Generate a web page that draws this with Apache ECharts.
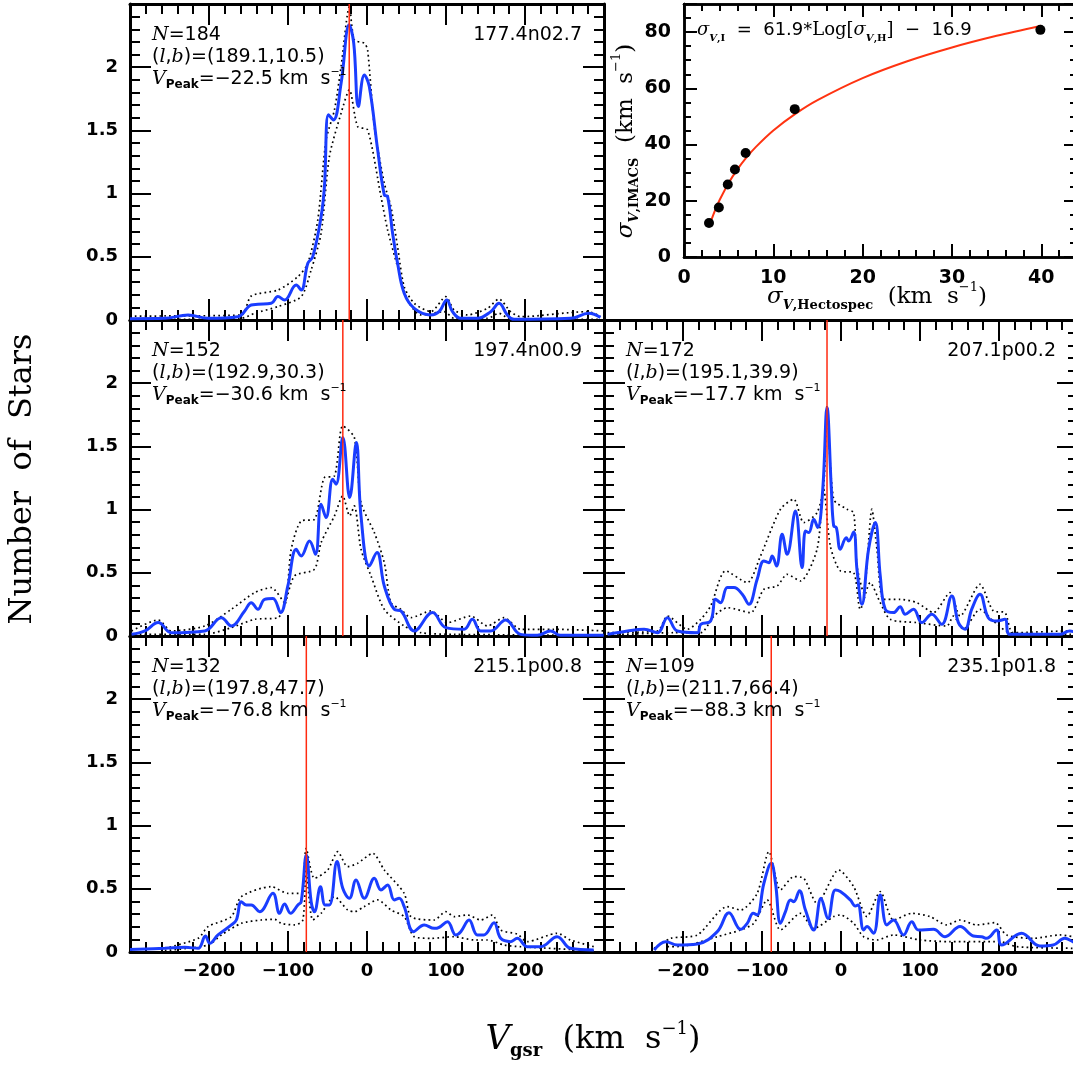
<!DOCTYPE html>
<html>
<head>
<meta charset="utf-8">
<script src="https://cdn.jsdelivr.net/npm/echarts/dist/echarts.min.js"></script>
<style>
  html, body { margin: 0; padding: 0; background: #fff; }
  #chart { width: 1073px; height: 1065px; }
</style>
</head>
<body>
<div id="chart"></div>
<script>
// ---- Field metadata ----
const fieldNames = ['177.4n02.7', '197.4n00.9', '207.1p00.2', '215.1p00.8', '235.1p01.8'];
const fieldN     = [184, 152, 172, 132, 109];
const fieldL     = [189.1, 192.9, 195.1, 197.8, 211.7];
const fieldB     = [10.5, 30.3, 39.9, 47.7, 66.4];
const fieldVPeak = [-22.5, -30.6, -17.7, -76.8, -88.3];

// ---- Axis ticks ----
const velTicks = [-200, -100, 0, 100, 200];
const numTicks = [0, 0.5, 1, 1.5, 2];
const sigHTicks = [0, 10, 20, 30, 40];
const sigITicks = [0, 20, 40, 60, 80];

// ---- Smoothed velocity distributions [Vgsr, number of stars] ----
const f177Dist = [[-300,0.01],[-255.9,0.013],[-226.4,0.04],[-201.2,0.013],[-163.3,0.026],[-146.5,0.119],[-138.0,0.124],[-121.2,0.132],[-112.8,0.185],[-104.4,0.158],[-89.6,0.277],[-83.3,0.237],[-74.9,0.449],[-68.6,0.501],[-58.1,0.818],[-53.9,1.055],[-48.8,1.623],[-42.5,1.583],[-32.8,1.873],[-22.5,2.335],[-16.8,2.19],[-10.9,1.689],[-3.4,1.939],[2.9,1.847],[13.5,1.346],[21.9,0.989],[26.1,0.976],[32.4,0.686],[38.7,0.449],[47.1,0.211],[59.8,0.092],[80.8,0.040],[91.3,0.066],[101.0,0.158],[108.2,0.066],[118.7,0.013],[139.7,0.013],[156.6,0.066],[167.1,0.132],[177.6,0.040],[186.0,0.005],[257.6,0.013],[280.7,0.053],[295.5,0.021]];
const f177Hi = [[-300,0.03],[-255.9,0.032],[-159.1,0.040],[-146.5,0.19],[-112.8,0.237],[-87.5,0.343],[-74.9,0.449],[-62.3,0.792],[-51.8,1.425],[-41.2,1.662],[-32.8,2.005],[-22.3,2.48],[-16.0,2.216],[-3.4,2.19],[0.8,2.137],[9.3,1.530],[21.9,1.082],[30.3,0.897],[38.7,0.580],[47.1,0.264],[59.8,0.132],[80.8,0.066],[99.7,0.185],[110.3,0.079],[127.1,0.040],[152.4,0.092],[167.1,0.166],[181.8,0.066],[194.4,0.026],[278.6,0.066],[295.5,0.032]];
const f177Lo = [[-300,0.005],[-255.9,0.005],[-159.1,0.013],[-142.3,0.053],[-112.8,0.106],[-83.3,0.185],[-70.7,0.396],[-58.1,0.686],[-47.6,1.293],[-32.8,1.636],[-22.3,1.821],[-11.8,1.530],[0.8,1.504],[17.7,0.976],[26.1,0.712],[38.7,0.422],[51.3,0.158],[68.2,0.040],[97.6,0.066],[110.3,0.013],[152.4,0.013],[167.1,0.053],[181.8,0.005],[295.5,0.005]];

const f197Dist = [[-298.0,0.013],[-281.1,0.040],[-264.3,0.106],[-247.5,0.026],[-205.4,0.040],[-184.3,0.145],[-171.7,0.079],[-154.9,0.198],[-146.5,0.264],[-138.0,0.211],[-129.6,0.290],[-119.1,0.296],[-109.4,0.185],[-100.2,0.396],[-89.6,0.686],[-83.3,0.633],[-72.8,0.752],[-65.2,0.646],[-58.1,1.042],[-51.8,0.937],[-43.4,1.240],[-39.1,1.201],[-30.6,1.570],[-21.9,1.095],[-13.5,1.530],[-7.6,0.950],[2.9,0.554],[12.6,0.660],[21.9,0.396],[34.5,0.211],[42.9,0.198],[59.8,0.040],[82.9,0.185],[99.7,0.066],[122.9,0.053],[133.4,0.132],[143.9,0.040],[156.6,0.040],[175.5,0.127],[194.4,0.013],[215.5,0.005],[232.3,0.040],[244.9,0.005],[299.7,0.005]];
const f197Hi = [[-298.0,0.040],[-264.3,0.127],[-247.5,0.040],[-205.4,0.079],[-171.7,0.211],[-142.3,0.343],[-121.2,0.383],[-104.4,0.264],[-96.0,0.686],[-83.3,0.910],[-66.5,0.923],[-53.9,1.253],[-41.2,1.266],[-30.7,1.662],[-16.0,1.570],[-7.6,1.055],[9.3,0.818],[21.9,0.580],[30.3,0.264],[42.9,0.211],[55.6,0.145],[80.8,0.198],[101.9,0.106],[131.3,0.158],[152.4,0.079],[173.4,0.145],[194.4,0.053],[236.5,0.053],[299.7,0.040]];
const f197Lo = [[-293.8,0.013],[-205.4,0.013],[-171.7,0.066],[-142.3,0.132],[-112.8,0.145],[-104.4,0.237],[-91.8,0.475],[-66.5,0.528],[-58.1,0.739],[-41.2,0.950],[-30.7,1.108],[-21.9,0.950],[-16.0,1.029],[-7.6,0.686],[5.1,0.475],[21.9,0.211],[47.1,0.079],[68.2,0.026],[110.3,0.013],[299.7,0.005]];

const f207Dist = [[-295.5,0.013],[-270.2,0.040],[-249.2,0.053],[-232.3,0.026],[-219.7,0.145],[-207.1,0.040],[-181.8,0.026],[-177.6,0.092],[-165.0,0.119],[-158.7,0.290],[-152.4,0.264],[-143.9,0.383],[-135.5,0.383],[-125.0,0.330],[-116.6,0.251],[-106.1,0.449],[-97.6,0.594],[-91.3,0.580],[-87.1,0.633],[-81.6,0.554],[-74.5,0.805],[-68.2,0.646],[-57.7,0.989],[-49.2,0.541],[-45.0,0.831],[-40.8,0.818],[-34.5,0.923],[-29.5,0.858],[-23.1,1.161],[-17.7,1.807],[-12.2,1.161],[-9.3,0.871],[-5.9,0.858],[-0.8,0.686],[6.7,0.778],[9.7,0.752],[16.0,0.823],[20.2,0.528],[26.5,0.251],[34.9,0.686],[43.4,0.897],[49.7,0.475],[56.0,0.211],[66.5,0.185],[74.9,0.232],[81.2,0.172],[91.8,0.211],[102.3,0.106],[114.9,0.172],[127.5,0.092],[140.2,0.317],[148.6,0.106],[157.0,0.053],[165.4,0.211],[175.9,0.330],[186.4,0.145],[197.0,0.119],[207.5,0.132],[213.8,0.013],[276.9,0.013],[289.6,0.040],[300,0.02]];
const f207Hi = [[-295.5,0.026],[-232.3,0.040],[-219.7,0.158],[-194.4,0.053],[-177.6,0.132],[-165.0,0.237],[-146.0,0.515],[-118.7,0.422],[-101.9,0.633],[-76.6,1.003],[-59.8,1.082],[-47.1,0.897],[-30.3,0.976],[-21.9,1.187],[-17.7,1.821],[-9.3,1.082],[7.6,1.003],[16.0,0.976],[20.2,0.554],[28.6,0.343],[39.1,1.003],[45.5,0.686],[53.9,0.290],[74.9,0.290],[96.0,0.264],[117.0,0.185],[138.0,0.343],[150.7,0.158],[175.9,0.409],[192.8,0.198],[207.5,0.185],[218.0,0.026],[289.6,0.040],[300,0.03]];
const f207Lo = [[-295.5,0.005],[-211.3,0.026],[-177.6,0.026],[-160.8,0.158],[-143.9,0.224],[-114.5,0.185],[-97.6,0.369],[-80.8,0.396],[-68.2,0.488],[-51.3,0.435],[-30.3,0.686],[-21.9,1.161],[-13.5,0.712],[-0.8,0.515],[16.0,0.501],[24.4,0.211],[37.0,0.422],[49.7,0.264],[62.3,0.132],[96.0,0.106],[133.8,0.079],[142.3,0.158],[154.9,0.053],[175.9,0.211],[192.8,0.119],[213.8,0.026],[289.6,0.013],[300,0.01]];

const f215Dist = [[-300,0.02],[-255.9,0.029],[-230.6,0.037],[-213.8,0.029],[-204.5,0.127],[-199.1,0.069],[-188.6,0.135],[-171.7,0.214],[-165.4,0.253],[-159.1,0.398],[-152.8,0.372],[-146.5,0.372],[-135.9,0.319],[-119.1,0.464],[-110.7,0.306],[-104.4,0.380],[-96.8,0.306],[-87.5,0.372],[-83.3,0.398],[-76.8,0.768],[-70.7,0.398],[-66.5,0.319],[-58.9,0.517],[-53.0,0.372],[-47.6,0.372],[-37.9,0.715],[-30.7,0.504],[-22.3,0.425],[-13.9,0.570],[-3.4,0.425],[9.3,0.583],[17.7,0.491],[26.1,0.530],[34.5,0.412],[40.8,0.425],[47.1,0.359],[58.9,0.161],[72.4,0.214],[85.0,0.187],[91.3,0.195],[101.9,0.240],[112.4,0.135],[118.7,0.161],[129.2,0.253],[139.7,0.135],[148.1,0.135],[160.8,0.232],[169.2,0.108],[181.8,0.082],[190.2,0.108],[202.9,0.042],[219.7,0.042],[240.7,0.121],[257.6,0.029],[287.0,0.016]];
const f215Hi = [[-255.9,0.029],[-213.8,0.108],[-201.2,0.201],[-171.7,0.280],[-159.1,0.438],[-121.2,0.517],[-100.2,0.464],[-83.3,0.464],[-77.0,0.821],[-66.5,0.583],[-49.7,0.649],[-37.0,0.794],[-24.4,0.675],[-11.8,0.702],[7.2,0.781],[21.9,0.649],[47.1,0.464],[55.6,0.280],[85.0,0.253],[99.7,0.319],[110.3,0.280],[127.1,0.293],[143.9,0.253],[158.7,0.293],[169.2,0.174],[190.2,0.142],[202.9,0.082],[240.7,0.148],[257.6,0.095],[287.0,0.042]];
const f215Lo = [[-255.9,0.011],[-201.2,0.055],[-184.3,0.135],[-159.1,0.227],[-133.8,0.253],[-117.0,0.259],[-108.6,0.227],[-91.8,0.214],[-81.2,0.253],[-77.0,0.649],[-68.6,0.253],[-58.1,0.306],[-41.2,0.438],[-24.4,0.332],[-16.0,0.319],[-3.4,0.359],[13.5,0.412],[30.3,0.332],[47.1,0.280],[59.8,0.121],[80.8,0.108],[110.3,0.121],[135.5,0.095],[152.4,0.095],[173.4,0.055],[194.4,0.042],[287.0,0.011]];

const f235Dist = [[-236.5,0.016],[-221.8,0.082],[-207.1,0.055],[-181.8,0.063],[-156.6,0.161],[-141.8,0.311],[-127.1,0.179],[-118.7,0.227],[-111.1,0.306],[-106.1,0.293],[-97.6,0.544],[-88.3,0.702],[-82.9,0.544],[-76.6,0.227],[-70.3,0.319],[-64.0,0.412],[-59.8,0.398],[-52.6,0.485],[-45.0,0.332],[-34.5,0.174],[-25.3,0.425],[-16.4,0.266],[-7.2,0.491],[-0.8,0.478],[11.8,0.412],[18.1,0.364],[21.5,0.372],[28.6,0.174],[32.8,0.201],[41.2,0.148],[49.7,0.451],[58.1,0.214],[66.5,0.253],[79.1,0.135],[89.6,0.240],[98.1,0.174],[117.0,0.179],[131.7,0.121],[150.7,0.201],[167.5,0.127],[178.0,0.121],[184.3,0.108],[197.0,0.174],[203.3,0.055],[228.5,0.148],[251.7,0.047],[268.5,0.055],[283.2,0.108],[293.4,0.082],[300,0.06]];
const f235Hi = [[-236.5,0.029],[-215.5,0.108],[-181.8,0.135],[-143.9,0.359],[-127.1,0.332],[-106.1,0.464],[-91.3,0.794],[-76.6,0.491],[-59.8,0.596],[-47.1,0.583],[-30.3,0.385],[-2.9,0.649],[16.0,0.517],[32.8,0.280],[49.7,0.478],[66.5,0.253],[89.6,0.306],[112.8,0.280],[133.8,0.214],[150.7,0.253],[171.7,0.214],[194.9,0.232],[209.6,0.135],[243.3,0.108],[276.9,0.135],[293.4,0.121],[300,0.11]];
const f235Lo = [[-219.7,0.042],[-198.7,0.047],[-156.6,0.121],[-127.1,0.174],[-110.3,0.227],[-93.4,0.412],[-76.6,0.174],[-51.3,0.306],[-34.5,0.187],[-9.3,0.280],[-0.8,0.293],[16.0,0.227],[28.6,0.121],[45.5,0.095],[66.5,0.135],[100.2,0.095],[138.0,0.082],[201.2,0.082],[222.2,0.042],[293.4,0.029],[300,0.028]];

const distSeries = [f177Dist, f197Dist, f207Dist, f215Dist, f235Dist];
const hiSeries   = [f177Hi, f197Hi, f207Hi, f215Hi, f235Hi];
const loSeries   = [f177Lo, f197Lo, f207Lo, f215Lo, f235Lo];

// ---- Dispersion comparison (IMACS vs Hectospec) ----
const sigmaHecto = [2.8, 3.9, 4.9, 5.7, 6.9, 12.4, 39.9];
const sigmaImacs = [12.1, 17.6, 25.8, 31.1, 37.0, 52.6, 80.8];
const fitSlope = 61.9;
const fitIntercept = -16.9;
const fitSigmaH = [3, 3.5, 4, 5, 6, 7, 8, 10, 12.5, 15, 20, 25, 30, 35, 40];

// ---- Layout ----
const VEL_MIN = -300, VEL_MAX = 300, N_MAX = 2.5;
const PW = 474, PH = 316;
const panels = [
  { left: 130, top: 4,   xLab: false, yLab: true },
  { left: 130, top: 320, xLab: false, yLab: true },
  { left: 604, top: 320, xLab: false, yLab: false },
  { left: 130, top: 636, xLab: true,  yLab: true },
  { left: 604, top: 636, xLab: true,  yLab: false }
];
const inset = { left: 684, top: 4, width: 393, height: 253 };

const BLUE = '#1a3dff';
const RED = '#ff2a10';
const tickFont = { color: '#000', fontFamily: 'DejaVu Sans', fontWeight: 'bold', fontSize: 18 };
const minus = v => (v < 0 ? '\u2212' + Math.abs(v) : String(v));

function frameAxis(dim, gridIndex, position, o) {
  return {
    type: 'value', gridIndex, position, min: o.min, max: o.max, interval: o.interval,
    axisLine: { show: true, onZero: false, lineStyle: { color: '#000', width: o.lineWidth || 3 } },
    axisTick: { show: true, inside: true, length: o.tickLen, lineStyle: { color: '#000', width: 2 } },
    minorTick: { show: !!o.minor, splitNumber: o.minor || 5, length: o.minorLen || 10, lineStyle: { color: '#000', width: 2 } },
    splitLine: { show: false }, minorSplitLine: { show: false },
    axisLabel: Object.assign({ show: !!o.labels, margin: o.margin || 12, hideOverlap: false,
      showMinLabel: true, showMaxLabel: true,
      formatter: v => (o.labels && o.labels.includes(+v.toFixed(6))) ? minus(v) : '' }, tickFont, o.labelFont || {})
  };
}

const grid = [], xAxis = [], yAxis = [], series = [], graphic = [];

const panelRich = {
  r: { fontFamily: 'DejaVu Sans', fontSize: 19, lineHeight: 24, color: '#000' },
  i: { fontFamily: 'DejaVu Serif', fontStyle: 'italic', fontSize: 19, lineHeight: 24, color: '#000' },
  sub: { fontFamily: 'DejaVu Sans', fontWeight: 'bold', fontSize: 12, lineHeight: 8, verticalAlign: 'bottom', color: '#000' },
  sup: { fontFamily: 'DejaVu Sans', fontSize: 11, lineHeight: 19, verticalAlign: 'top', color: '#000' }
};

panels.forEach((p, i) => {
  grid.push({ left: p.left, top: p.top, width: PW, height: PH, containLabel: false, outerBoundsMode: 'none' });
  const vOpt = { min: VEL_MIN, max: VEL_MAX, interval: 100, tickLen: 21, minor: 5, minorLen: 10 };
  const nOpt = { min: 0, max: N_MAX, interval: 0.5, tickLen: 21, minor: 5, minorLen: 10 };
  xAxis.push(frameAxis('x', i, 'bottom', Object.assign({}, vOpt, { labels: p.xLab ? velTicks : null, margin: 10 })));
  xAxis.push(frameAxis('x', i, 'top', vOpt));
  yAxis.push(frameAxis('y', i, 'left', Object.assign({}, nOpt, { labels: p.yLab ? numTicks : null, margin: 12 })));
  yAxis.push(frameAxis('y', i, 'right', nOpt));
  const xi = 2 * i, yi = 2 * i;
  const common = { type: 'line', xAxisIndex: xi, yAxisIndex: yi, showSymbol: false, silent: true,
    smooth: 0.4, animation: false, clip: true };
  const dotted = { color: '#000', width: 1.7, type: [1.7, 3.2] };
  series.push(Object.assign({}, common, { data: hiSeries[i], z: 2, smooth: 0.25, lineStyle: dotted }));
  series.push(Object.assign({}, common, { data: loSeries[i], z: 2, smooth: 0.25, lineStyle: dotted }));
  series.push(Object.assign({}, common, { data: distSeries[i], z: 3,
    lineStyle: { color: BLUE, width: 3 } }));
  series.push(Object.assign({}, common, { smooth: false, z: 4,
    data: [[fieldVPeak[i], 0], [fieldVPeak[i], N_MAX]],
    lineStyle: { color: RED, width: 1.5 } }));

  const tx = p.left + 22;
  const lines = [
    `{i|N}{r|=${fieldN[i]}}`,
    `{r|(}{i|l}{r|,}{i|b}{r|)=(${fieldL[i].toFixed(1)},${fieldB[i].toFixed(1)})}`,
    `{i|V}{sub|Peak}{r|=${minus(fieldVPeak[i])} km  s}{sup|\u22121}`
  ];
  lines.forEach((t, k) => graphic.push({ type: 'text', x: tx, y: p.top + 19 + 22 * k, z: 50,
    style: { text: t, rich: panelRich, align: 'left', verticalAlign: 'top' } }));
  graphic.push({ type: 'text', x: p.left + 452, y: p.top + 19, z: 50,
    style: { text: `{r|${fieldNames[i]}}`, rich: panelRich, align: 'right', verticalAlign: 'top' } });
});

// ---- Inset: sigma comparison ----
const gi = panels.length;
grid.push({ left: inset.left, top: inset.top, width: inset.width, height: inset.height, containLabel: false, outerBoundsMode: 'none' });
const insetFont = { fontSize: 19 };
const hMajor = { min: 0, max: 44, interval: 10, tickLen: 13, lineWidth: 2.5 };
const hMinor = { min: 0, max: 44, interval: 2, tickLen: 7, lineWidth: 2.5 };
const iMajor = { min: 0, max: 90, interval: 20, tickLen: 13, lineWidth: 2.5 };
const iMinor = { min: 0, max: 90, interval: 5, tickLen: 7, lineWidth: 2.5 };
const ix0 = xAxis.length, iy0 = yAxis.length;
xAxis.push(frameAxis('x', gi, 'bottom', Object.assign({}, hMajor, { labels: sigHTicks, margin: 12, labelFont: insetFont })));
xAxis.push(frameAxis('x', gi, 'bottom', hMinor));
xAxis.push(frameAxis('x', gi, 'top', hMajor));
xAxis.push(frameAxis('x', gi, 'top', hMinor));
yAxis.push(frameAxis('y', gi, 'left', Object.assign({}, iMajor, { labels: sigITicks, margin: 13, labelFont: insetFont })));
yAxis.push(frameAxis('y', gi, 'left', iMinor));
yAxis.push(frameAxis('y', gi, 'right', iMajor));
yAxis.push(frameAxis('y', gi, 'right', iMinor));

// fitted relation, evaluated from the coefficients printed in the panel
series.push({ type: 'line', xAxisIndex: ix0, yAxisIndex: iy0, showSymbol: false, silent: true, animation: false,
  smooth: 0.3, z: 3, lineStyle: { color: '#ff3311', width: 2 },
  data: fitSigmaH.map(h => [h, fitSlope * Math.log10(h) + fitIntercept]) });
series.push({ type: 'scatter', xAxisIndex: ix0, yAxisIndex: iy0, silent: true, animation: false,
  symbol: 'circle', symbolSize: 10, z: 4, itemStyle: { color: '#000', opacity: 1 },
  data: sigmaHecto.map((h, k) => [h, sigmaImacs[k]]) });

// ---- Titles and annotations ----
const serifRich = (size) => ({
  r: { fontFamily: 'DejaVu Serif', fontSize: size, lineHeight: size + 8, color: '#000' },
  v: { fontFamily: 'DejaVu Serif', fontStyle: 'italic', fontSize: size + 2, lineHeight: size + 8, color: '#000' },
  s: { fontFamily: 'DejaVu Serif', fontStyle: 'italic', fontSize: size, lineHeight: size + 8, color: '#000' },
  sub: { fontFamily: 'DejaVu Serif', fontWeight: 'bold', fontSize: Math.round(size * 0.55), lineHeight: Math.round(size * 0.25), verticalAlign: 'bottom', color: '#000' },
  subi: { fontFamily: 'DejaVu Serif', fontWeight: 'bold', fontStyle: 'italic', fontSize: Math.round(size * 0.55), lineHeight: Math.round(size * 0.25), verticalAlign: 'bottom', color: '#000' },
  sup: { fontFamily: 'DejaVu Serif', fontSize: Math.round(size * 0.55), lineHeight: Math.round(size * 0.85), verticalAlign: 'top', color: '#000' },
  d: { fontFamily: 'DejaVu Sans', fontSize: size, lineHeight: size + 8, color: '#000' }
});

graphic.push({ type: 'text', x: 23, y: 479, rotation: Math.PI / 2, z: 50,
  style: { text: 'Number  of  Stars', fontFamily: 'DejaVu Serif', fontSize: 32, fill: '#000', align: 'center', verticalAlign: 'middle' } });
graphic.push({ type: 'text', x: 593, y: 1040, z: 50,
  style: { text: '{v|V}{sub|gsr}{r|  (km  s}{sup|\u22121}{r|)}', rich: serifRich(32), align: 'center', verticalAlign: 'middle' } });

graphic.push({ type: 'text', x: 697, y: 30, z: 50,
  style: { text: '{s|\u03c3}{subi|V}{sub|,I}{d|  =  61.9*}{r|Log[}{s|\u03c3}{subi|V}{sub|,H}{r|]}{d|  \u2212  16.9}', rich: serifRich(18), align: 'left', verticalAlign: 'middle' } });
graphic.push({ type: 'text', x: 626, y: 141, rotation: Math.PI / 2, z: 50,
  style: { text: '{s|\u03c3}{subi|V}{sub|,IMACS}{r|  (km  s}{sup|\u22121}{r|)}', rich: serifRich(23), align: 'center', verticalAlign: 'middle' } });
graphic.push({ type: 'text', x: 877, y: 297, z: 50,
  style: { text: '{s|\u03c3}{subi|V}{sub|,Hectospec}{r|  (km  s}{sup|\u22121}{r|)}', rich: serifRich(23), align: 'center', verticalAlign: 'middle' } });

const chart = echarts.init(document.getElementById('chart'), null, { renderer: 'canvas' });
chart.setOption({
  backgroundColor: '#fff',
  animation: false,
  grid, xAxis, yAxis, series, graphic
});
</script>
</body>
</html>
